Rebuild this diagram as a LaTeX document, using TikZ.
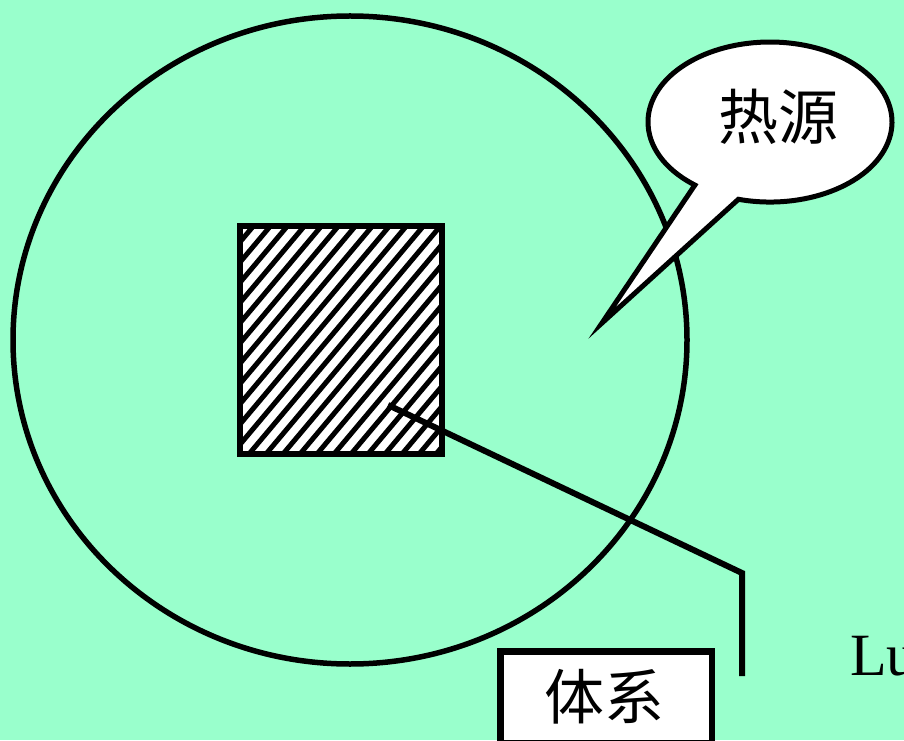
\documentclass[tikz,border=0pt]{standalone}
\usepackage{fontspec}
\setmainfont{Liberation Serif}
\newfontfamily\cjk{Noto Sans CJK SC}
\definecolor{bg}{HTML}{99FFCC}
\begin{document}
\begin{tikzpicture}[x=1pt,y=1pt,
  cjktext/.style={font=\cjk\fontsize{60}{60}\selectfont, inner sep=0pt},
  heavy/.style={line width=6pt}]
\useasboundingbox (0,0) rectangle (904,740);
\clip (0,0) rectangle (904,740);
\fill[bg] (0,0) rectangle (904,740);
% heat source region
\draw[line width=5.5pt] (350,400) ellipse [x radius=337, y radius=324];
% system (hatched square)
\node[draw, heavy, fill=white, minimum width=202pt, minimum height=228pt, inner sep=0pt,
  path picture={
    \foreach \i in {-280,-263,...,240}
      \draw[line width=5pt] ([xshift=\i pt]path picture bounding box.south west) -- ++(220,262);
  }] (body) at (341,400) {};
% leader line
\coordinate (c0) at (388,335);
\coordinate (c1) at (742,167);
\coordinate (c2) at (742,64);
\draw[heavy, line join=miter] (c0) -- (c1) -- (c2);
% label box
\node[draw, line width=6.5pt, fill=white, minimum width=211.5pt, minimum height=91.5pt, inner sep=0pt] (sysbox) at (606,43) {};
\node[cjktext] (sys) at (604,43) {体系};
% callout
\draw[line width=5pt, fill=white, line join=miter]
  (738.4,540.7) arc[start angle=255, end angle=592, x radius=122, y radius=80] -- (602,417) -- cycle;
\node[cjktext] (src) at (778,623) {热源};
% partially visible text
\node[anchor=base west, inner sep=0pt, font=\fontsize{60}{60}\selectfont] (lu) at (850,65) {Lu};
\end{tikzpicture}
\end{document}
